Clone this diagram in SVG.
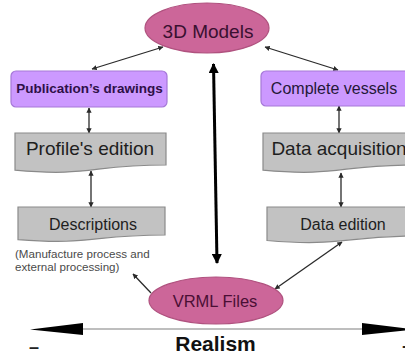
<svg xmlns="http://www.w3.org/2000/svg" width="405" height="356" viewBox="0 0 405 356">
  <style>
    .ell { fill: #cc6699; stroke: #b0527f; stroke-width: 1.2; }
    .pur { fill: #cc99ff; stroke: #a578d8; stroke-width: 1.2; }
    .doc { fill: #c2c2c2; stroke: #8a8a8a; stroke-width: 1.2; }
    .t { font-family: "Liberation Sans", Arial, sans-serif; text-anchor: middle; }
    .note { font-family: "Liberation Sans", Arial, sans-serif; font-size: 11.6px; fill: #4a4a4a; }
    .conn { stroke: #2a2a2a; stroke-width: 1.3; fill: none; marker-start: url(#tip); marker-end: url(#tip); }
  </style>
  <defs>
    <marker id="tip" viewBox="0 0 10 10" refX="9" refY="5" markerWidth="4" markerHeight="4" orient="auto-start-reverse">
      <path d="M0,0 L10,5 L0,10 Z" fill="#2a2a2a"/>
    </marker>
    <marker id="big" viewBox="0 0 10 10" refX="9" refY="5" markerWidth="3.4" markerHeight="3.4" orient="auto-start-reverse">
      <path d="M0,0 L10,5 L0,10 Z" fill="#000"/>
    </marker>
  </defs>

  <rect width="405" height="356" fill="#ffffff"/>

  <g id="connectors">
    <line class="conn" x1="92" y1="69" x2="163" y2="47"/>
    <line class="conn" x1="338" y1="70" x2="265" y2="47"/>
    <line class="conn" x1="89" y1="108" x2="89" y2="133"/>
    <line class="conn" x1="91" y1="171" x2="91" y2="207"/>
    <line class="conn" x1="339" y1="106" x2="339" y2="133"/>
    <line class="conn" x1="341" y1="173" x2="341" y2="207"/>
    <line class="conn" x1="342" y1="242" x2="275" y2="289"/>
    <line x1="133" y1="274" x2="151" y2="293" stroke="#2a2a2a" stroke-width="1.3" marker-start="url(#tip)"/>
    <!-- thick two-way link between the model and the VRML output -->
    <line x1="213.5" y1="64" x2="217" y2="263" stroke="#000" stroke-width="3" marker-start="url(#big)" marker-end="url(#big)"/>
  </g>

  <g id="models3d">
    <ellipse class="ell" cx="207" cy="28" rx="62" ry="25"/>
    <text class="t" x="208" y="38" font-size="19" fill="#3a1030">3D Models</text>
  </g>

  <g id="publication">
    <rect class="pur" x="11" y="71" width="156" height="36" rx="5"/>
    <text class="t" x="89.5" y="93" font-size="13.5" font-weight="bold" fill="#2e1048">Publication’s drawings</text>
  </g>

  <g id="vessels">
    <rect class="pur" x="261" y="71" width="150" height="35" rx="5"/>
    <text class="t" x="334" y="94" font-size="16" fill="#241838">Complete vessels</text>
  </g>

  <g id="profile">
    <path class="doc" d="M15,133 H166 V165 C90.5,165 90.5,177 15,170.2 Z"/>
    <text class="t" x="90" y="155" font-size="19" fill="#1e1e1e">Profile's edition</text>
  </g>

  <g id="acquisition">
    <path class="doc" d="M263,133 H414 V165 C338.5,165 338.5,177 263,170.2 Z"/>
    <text class="t" x="339" y="155" font-size="19" fill="#1e1e1e">Data acquisition</text>
  </g>

  <g id="descriptions">
    <path class="doc" d="M18,207 H165 V235 C91.5,235 91.5,245.5 18,239.6 Z"/>
    <text class="t" x="93" y="230" font-size="16" fill="#1e1e1e">Descriptions</text>
  </g>

  <g id="dataedition">
    <path class="doc" d="M267,207 H418 V236 C342.5,236 342.5,247 267,240.5 Z"/>
    <text class="t" x="343" y="230" font-size="16" fill="#1e1e1e">Data edition</text>
  </g>

  <g id="note">
    <text class="note" x="15" y="257.5">(Manufacture process and</text>
    <text class="note" x="15" y="270.5">external processing)</text>
  </g>

  <g id="vrml">
    <ellipse class="ell" cx="216" cy="300.5" rx="67" ry="23.5"/>
    <text class="t" x="215" y="307" font-size="16.5" fill="#4a0f35">VRML Files</text>
  </g>

  <g id="realism">
    <line x1="83" y1="329" x2="362" y2="329" stroke="#a8a8a8" stroke-width="1.5"/>
    <polygon points="30,329.5 83,323 83,335" fill="#000"/>
    <polygon points="362,323 362,335 416,329.5" fill="#000"/>
    <text class="t" x="215.5" y="351" font-size="21" font-weight="bold" fill="#111">Realism</text>
    <text x="29" y="353" font-family="'Liberation Sans', Arial, sans-serif" font-size="18" font-weight="bold" fill="#222">–</text>
    <text x="402" y="353" font-family="'Liberation Sans', Arial, sans-serif" font-size="18" font-weight="bold" fill="#222">+</text>
  </g>
</svg>
